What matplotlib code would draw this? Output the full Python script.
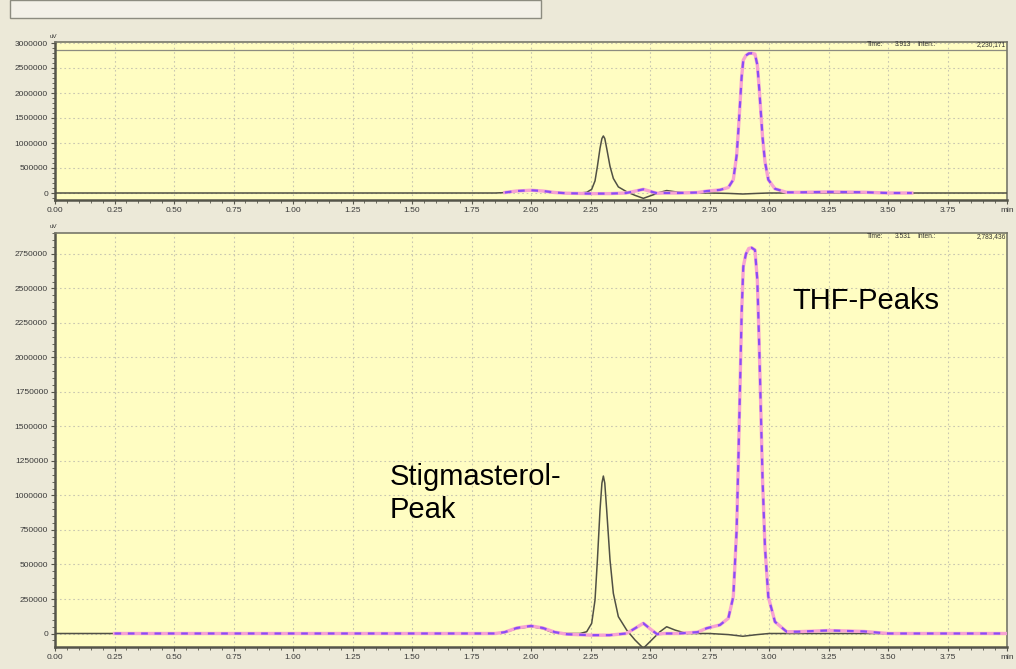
import numpy as np
import matplotlib
matplotlib.use("Agg")
import matplotlib.pyplot as plt
from matplotlib.patches import Rectangle
from matplotlib.ticker import MultipleLocator, FuncFormatter

# retention time (min) and signal (uV)
t_stig = [0.0, 1.85, 1.89, 1.94, 2.00, 2.05, 2.09, 2.15, 2.206, 2.234, 2.255, 2.269,
          2.279, 2.290, 2.298, 2.304, 2.310, 2.318, 2.332, 2.346, 2.367, 2.402, 2.437, 2.472, 2.507,
          2.542, 2.57, 2.605, 2.654, 2.75, 2.83, 2.89, 2.95, 3.0, 4.0]
v_stig = [0, 0, 8000, 35000, 50000, 35000, 8000, 0, 0, 13000, 74000, 243000,
          533000, 895000, 1090000, 1141000, 1090000, 895000, 533000, 291000, 122000, 25000, -47000, -107000, -47000,
          13000, 49000, 25000, 0, 0, -8000, -20000, -8000, 0, 0]

t_thf = [0.25, 1.0, 1.85, 1.89, 1.94, 2.00, 2.05, 2.10, 2.15, 2.25, 2.33, 2.40, 2.43,
         2.472, 2.507, 2.53, 2.56, 2.62, 2.70, 2.738, 2.794, 2.829, 2.850, 2.864, 2.871,
         2.878, 2.885, 2.892, 2.903, 2.915, 2.927, 2.941, 2.951, 2.959, 2.966, 2.973, 2.983,
         2.997, 3.025, 3.074, 3.12, 3.25, 3.40, 3.50, 3.60, 4.0]
v_thf = [0, 0, 0, 10000, 40000, 55000, 40000, 10000, -5000, -12000, -12000, 0, 30000,
         74000, 25000, -5000, 0, 0, 10000, 38000, 62000, 110000, 267000, 750000, 1233000,
         1764000, 2320000, 2658000, 2750000, 2790000, 2795000, 2779000, 2561000, 2078000, 1595000, 1112000, 629000,
         267000, 85000, 13000, 13000, 22000, 15000, 0, 0, 0]

x_ticks = [0.0, 0.25, 0.5, 0.75, 1.0, 1.25, 1.5, 1.75, 2.0, 2.25, 2.5, 2.75, 3.0, 3.25, 3.5, 3.75, 4.0]
x_labels = ["0.00", "0.25", "0.50", "0.75", "1.00", "1.25", "1.50", "1.75", "2.00",
            "2.25", "2.50", "2.75", "3.00", "3.25", "3.50", "3.75", "min"]
info_top = ["Time:", "3.913", "Inten.:", "2,230,171"]
info_bot = ["Time:", "3.531", "Inten.:", "2,783,436"]

W, H = 1016, 669
BG = "#ECE9D8"
PLOT_BG = "#FFFDC2"
SPINE = "#55554a"
BLACK = "#505044"
PINK = "#F7A3D2"
PURPLE = "#8A4DF5"
FONT = "Liberation Sans"


def box(x0, y0, x1, y1):
    # pixel box (from top-left) -> figure fraction rect
    return [x0 / W, 1 - y1 / H, (x1 - x0) / W, (y1 - y0) / H]


def style_axes(ax, ylim, ystep, yminor):
    ax.set_facecolor(PLOT_BG)
    ax.set_xlim(0, 4.0)
    ax.set_ylim(*ylim)
    ax.set_xticks(x_ticks)
    ax.set_xticklabels(x_labels)
    ax.xaxis.set_minor_locator(MultipleLocator(0.05))
    ax.yaxis.set_major_locator(MultipleLocator(ystep))
    ax.yaxis.set_minor_locator(MultipleLocator(yminor))
    ax.yaxis.set_major_formatter(FuncFormatter(lambda v, p: "%d" % v if v >= 0 else ""))
    ax.tick_params(axis="both", which="major", length=3, width=0.8, color=SPINE,
                   labelsize=6, labelcolor="#3a3a3a", pad=2)
    ax.tick_params(axis="both", which="minor", length=2, width=0.6, color=SPINE)
    for lab in ax.get_xticklabels() + ax.get_yticklabels():
        lab.set_fontfamily(FONT)
    ax.grid(True, which="major", color="#c9c7b0", linestyle=(0, (1.5, 2.5)), linewidth=0.8)
    ax.set_axisbelow(True)
    for side in ["left", "bottom"]:
        ax.spines[side].set_color(SPINE)
        ax.spines[side].set_linewidth(1.8)
    for side in ["top", "right"]:
        ax.spines[side].set_color("#77776a")
        ax.spines[side].set_linewidth(1.2)


def draw_traces(ax, t_min, t_max):
    t = np.array(t_thf)
    v = np.array(v_thf)
    m = (t >= t_min) & (t <= t_max)
    ax.plot(t_stig, v_stig, color=BLACK, lw=1.1, zorder=3)
    ax.plot(t[m], v[m], color=PINK, lw=2.4, zorder=4)
    ax.plot(t[m], v[m], color=PURPLE, lw=1.6, linestyle=(0, (3, 3)), zorder=5)


def info(y, vals):
    xs = [867, 895, 917]
    for x, s in zip(xs, vals[:3]):
        fig.text(x / W, 1 - y / H, s, fontsize=4.8, family=FONT, color="#333333", va="center")
    fig.text(1006 / W, 1 - y / H, vals[3], fontsize=4.8, family=FONT, color="#333333",
             va="center", ha="right")


fig = plt.figure(figsize=(W / 100, H / 100), dpi=100, facecolor=BG)

# window caption strip at the top left
fig.patches.append(Rectangle((10 / W, 1 - 18 / H), 531 / W, 18 / H, transform=fig.transFigure,
                             facecolor="#F3F1E8", edgecolor="#8c8c80", linewidth=1.0))

ax_top = fig.add_axes(box(55, 42, 1007, 200))
style_axes(ax_top, (-140000, 3020000), 500000, 100000)
draw_traces(ax_top, 1.87, 3.6)
ax_top.axhline(2860000, color="#8c8c80", lw=0.9)
info(45, info_top)
fig.text(50 / W, 1 - 37 / H, "uV", fontsize=4.5, family=FONT, color="#333333", va="center")

ax_bot = fig.add_axes(box(55, 233, 1007, 647))
style_axes(ax_bot, (-97800, 2902000), 250000, 50000)
draw_traces(ax_bot, 0.0, 4.0)
info(237, info_bot)
fig.text(50 / W, 1 - 227 / H, "uV", fontsize=4.5, family=FONT, color="#333333", va="center")

ax_bot.text(1.408, 1076000, "Stigmasterol-", fontsize=21, family=FONT, va="baseline", zorder=6)
ax_bot.text(1.408, 837000, "Peak", fontsize=21, family=FONT, va="baseline", zorder=6)
ax_bot.text(3.097, 2351000, "THF-Peaks", fontsize=21, family=FONT, va="baseline", zorder=6)

fig.savefig("out.png", dpi=100, facecolor=BG)
